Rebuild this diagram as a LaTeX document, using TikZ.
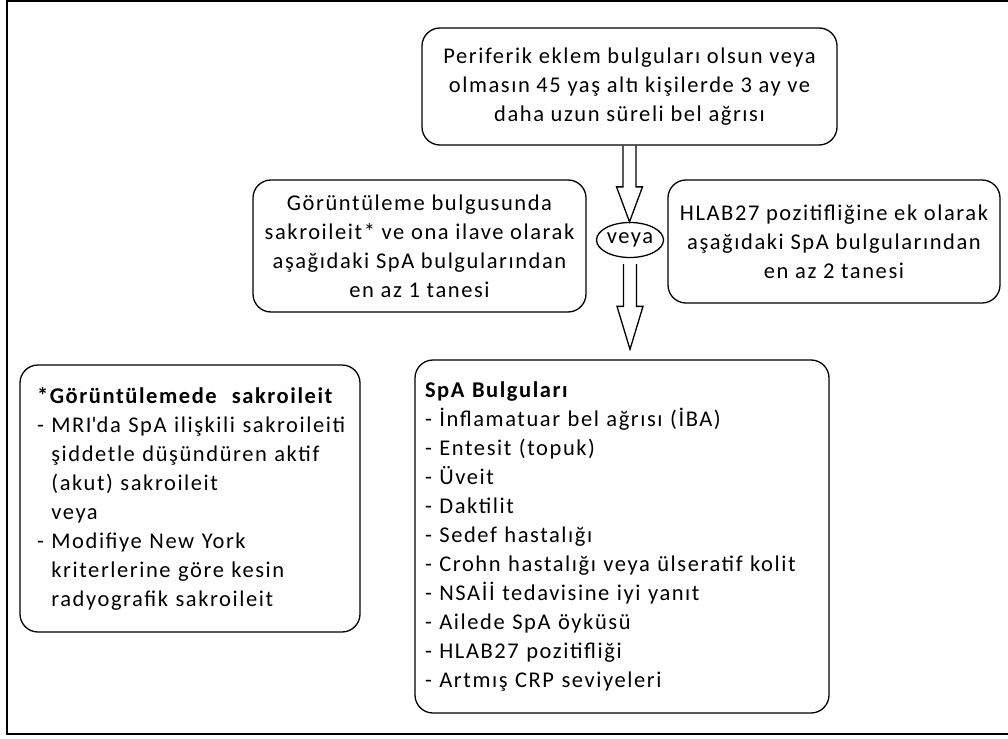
\documentclass[tikz,border=0pt]{standalone}
\usepackage{fontspec}
\setmainfont{Carlito}[LetterSpace=7]
\usetikzlibrary{shapes.geometric,calc}
\tikzset{font=\fontsize{22.5}{29}\selectfont,
  box/.style={draw,rounded corners=18pt,line width=1.3pt,inner sep=0pt},
  hollow/.style={draw,line width=1.3pt,line join=miter}}
\newcommand{\ind}{\phantom{- }}
% hollow block arrow: start, tip, head length
\newcommand{\blockarrow}[3]{%
  \draw[hollow] let \p1=#1, \p2=#2 in
  (\x1-6.5pt,\y1) -- (\x1-6.5pt,\y2+#3) -- (\x1-13pt,\y2+#3) -- (\x1,\y2)
  -- (\x1+13pt,\y2+#3) -- (\x1+6.5pt,\y2+#3) -- (\x1+6.5pt,\y1);}

\begin{document}
\begin{tikzpicture}[x=1pt,y=1pt]
\useasboundingbox (0,0) rectangle (1008,-738);
\draw[line width=2pt] (7,-1.5) rectangle (1020,-734);
\node (P) [box,minimum width=415,minimum height=117,align=center] at (629.5,-86.5)
  {Periferik eklem bulguları olsun veya\\ olmasın 45 yaş altı kişilerde 3 ay ve\\ daha uzun süreli bel ağrısı};
\node (G) [box,minimum width=333,minimum height=132,align=center] at (419.5,-246)
  {Görüntüleme bulgusunda\\ sakroileit* ve ona ilave olarak\\ aşağıdaki SpA bulgularından\\ en az 1 tanesi};
\node (H) [box,minimum width=332,minimum height=123,align=center] at (834,-241.5)
  {HLAB27 pozitifliğine ek olarak\\ aşağıdaki SpA bulgularından\\ en az 2 tanesi};
\node (V) [draw,ellipse,line width=1.3pt,inner sep=0pt,minimum width=67,minimum height=35] at (630,-240) {veya};
\node (S) [box,minimum width=414,minimum height=353,text width=394,align=left] at (622,-536.5)
  {\textbf{SpA Bulguları}\\ - İnflamatuar bel ağrısı (İBA)\\ - Entesit (topuk)\\ - Üveit\\ - Daktilit\\
   - Sedef hastalığı\\ - Crohn hastalığı veya ülseratif kolit\\ - NSAİİ tedavisine iyi yanıt\\
   - Ailede SpA öyküsü\\ - HLAB27 pozitifliği\\ - Artmış CRP seviyeleri};
\node (K) [box,minimum width=340,minimum height=267,text width=306,align=left] at (190,-498.5)
  {\mbox{\textbf{*Görüntülemede\ \ sakroileit}}\\ \mbox{- MRI\textquotesingle da SpA ilişkili sakroileiti}\\
   \ind şiddetle düşündüren aktif\\ \ind (akut) sakroileit\\ \ind veya\\ - Modifiye New York\\
   \ind kriterlerine göre kesin\\ \ind radyografik sakroileit};
\blockarrow{(P.south)}{(V.north)}{35pt}
\blockarrow{($(V.south)+(0,-6)$)}{($(S.north)+(0,10)$)}{43pt}
\end{tikzpicture}
\end{document}
